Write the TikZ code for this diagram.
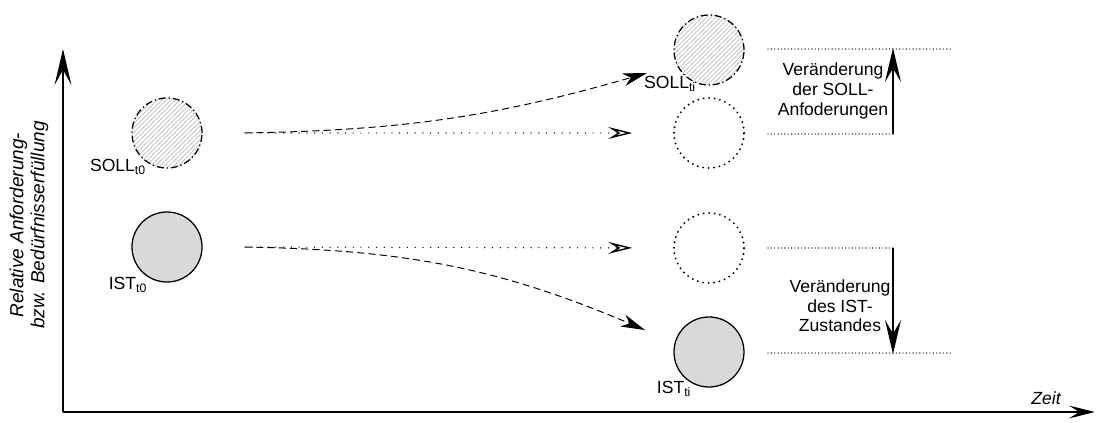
\documentclass[tikz,border=0pt]{standalone}
\usepackage{fontspec}
\setmainfont{Liberation Sans}
\usetikzlibrary{arrows.meta,patterns.meta}
\definecolor{istgray}{RGB}{217,217,217}
\definecolor{hatchgray}{RGB}{185,185,185}
\tikzset{
  state/.style={circle, minimum size=1.75cm, inner sep=0pt, line width=0.9pt},
  state-soll/.style={
    state,
    draw=black,
    dash pattern=on 5pt off 2pt on 1pt off 2pt,
    pattern={Lines[angle=45,distance=2.3pt,line width=0.5pt]},
    pattern color=hatchgray
  },
  state-ist/.style={state, draw=black, fill=istgray},
  state-ghost/.style={state, draw=black, line cap=round, dash pattern=on 0pt off 3.9pt, line width=1.5pt},
  txt/.style={font=\fontsize{12.5}{14}\selectfont, inner sep=0pt},
  move/.style={line width=0.7pt, dash pattern=on 5pt off 3pt,
    -{Stealth[length=0.6cm,width=0.32cm,inset=0.18cm]}},
  stay/.style={line width=1pt, line cap=round, dash pattern=on 0pt off 5.5pt,
    -{Stealth[open,length=0.6cm,width=0.3cm,inset=0.24cm]}},
  level/.style={line width=1pt, line cap=round, dash pattern=on 0pt off 2.4pt},
  delta/.style={line width=1.4pt, -{Stealth[length=0.85cm,width=0.4cm,inset=0.34cm]}},
  axis/.style={line width=1.3pt}
}

\begin{document}
\begin{tikzpicture}[x=0.025cm,y=0.025cm]
  \useasboundingbox (0,0) rectangle (1096,422);
  % axes
  \coordinate (origin) at (63,10);
  \coordinate (y-end) at (63,373);
  \coordinate (x-end) at (1095,10);
  \draw[axis,-{Stealth[length=0.9cm,width=0.42cm,inset=0.38cm]}] (origin) -- (y-end);
  \draw[axis,-{Stealth[length=0.65cm,width=0.32cm,inset=0.26cm]}] (origin) -- (x-end);
  \node[txt,rotate=90,align=center,font=\fontsize{13.5}{15}\selectfont\itshape] (y-label) at (29,197)
    {Relative Anforderung-\\bzw. Bedürfnisserfüllung};
  \node[txt,font=\fontsize{12.5}{14}\selectfont\itshape] (x-label) at (1046,24) {Zeit};

  % states at t0
  \node[state-soll] (soll0) at (167,289) {};
  \node[state-ist] (ist0) at (167,175) {};
  \node[txt] (soll0-lbl) at (118,255) {SOLL\textsubscript{t0}};
  \node[txt] (ist0-lbl) at (128,137) {IST\textsubscript{t0}};

  % states at ti
  \node[state-soll] (sollti) at (709,372) {};
  \node[state-ghost] (ghost-soll) at (709,289) {};
  \node[state-ghost] (ghost-ist) at (709,174) {};
  \node[state-ist] (istti) at (709,70) {};
  \node[txt] (sollti-lbl) at (670,338) {SOLL\textsubscript{ti}};
  \node[txt] (istti-lbl) at (674,33) {IST\textsubscript{ti}};

  % development over time
  \coordinate (soll-start) at (245,289);
  \coordinate (ist-start) at (245,175);
  \coordinate (soll-tip) at (647,349);
  \coordinate (ist-tip) at (645,92);
  \draw[stay,shorten >=1.02cm] (soll-start) -- (ghost-soll.west);
  \draw[stay,shorten >=1.02cm] (ist-start) -- (ghost-ist.west);
  \draw[move] (soll-start) to[out=1,in=196] (soll-tip);
  \draw[move] (ist-start) to[out=-1,in=157] (ist-tip);

  % levels and changes
  \draw[level] (768,373) -- (952,373);
  \draw[level] (768,288) -- (893,288);
  \draw[level] (768,174) -- (893,174);
  \draw[level] (768,69) -- (952,69);
  \coordinate (soll-lo) at (893,288);
  \coordinate (soll-hi) at (893,374);
  \coordinate (ist-hi) at (893,174);
  \coordinate (ist-lo) at (893,68);
  \draw[delta] (soll-lo) -- (soll-hi);
  \draw[delta] (ist-hi) -- (ist-lo);
  \node[txt,align=center] (soll-delta) at (833,331) {Veränderung\\der SOLL-\\Anfoderungen};
  \node[txt,align=center] (ist-delta) at (840,116) {Veränderung\\des IST-\\Zustandes};
\end{tikzpicture}
\end{document}
